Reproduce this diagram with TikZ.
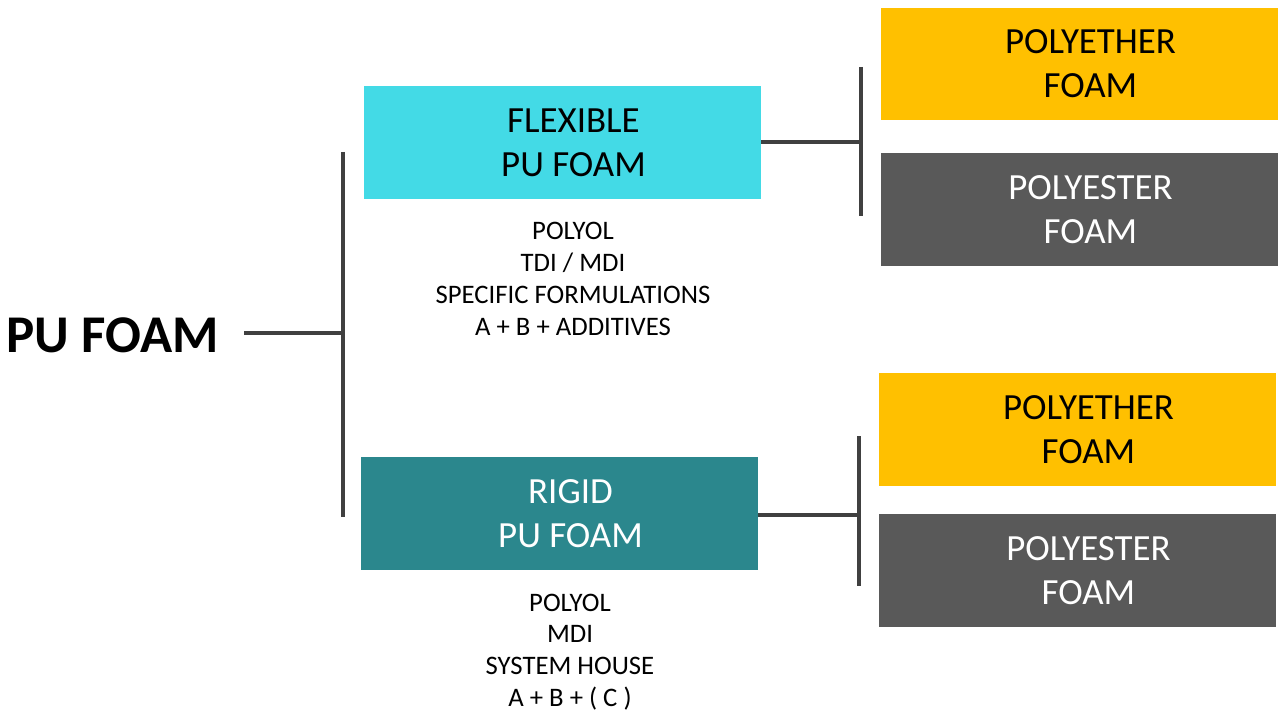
\documentclass[tikz,border=0pt]{standalone}
\usepackage{fontspec}
\setmainfont{Carlito}
\usepackage{tikz}
\usetikzlibrary{positioning, calc}
\definecolor{flexcyan}{RGB}{67,218,230}
\definecolor{rigidteal}{RGB}{43,135,141}
\definecolor{ethergold}{RGB}{255,192,0}
\definecolor{estergray}{RGB}{89,89,89}
\definecolor{linegray}{RGB}{64,64,64}

\begin{document}
\begin{tikzpicture}[
  x=0.02cm, y=-0.02cm,
  typebox/.style={rectangle, minimum width=7.94cm, minimum height=2.26cm, inner sep=0pt},
  boxtext/.style={align=center, inner sep=0pt, xshift=0.22cm, font=\fontsize{21}{25}\selectfont},
  recipe/.style={align=center, inner sep=0pt, font=\fontsize{15.2}{18.1}\selectfont},
  conn/.style={draw=linegray, line width=2pt}
]
\useasboundingbox (0,0) rectangle (1285,716);

% ---- Root ----
\node[font=\fontsize{30.2}{34}\selectfont\bfseries, inner sep=0pt] (pufoam) at (113,335) {PU FOAM};
\coordinate (rootend) at (244,333);
\coordinate (mainbartop) at (343,152);
\coordinate (mainbarbot) at (343,517);

% ---- Flexible branch ----
\node[typebox, fill=flexcyan, label={[boxtext]center:{FLEXIBLE\\PU FOAM}}] (flexible) at (562.5,142.5) {};
\node[recipe] (flexrecipe) at (573,279) {POLYOL\\TDI / MDI\\SPECIFIC FORMULATIONS\\A + B + ADDITIVES};
\coordinate (flexbartop) at (861,67);
\coordinate (flexbarbot) at (861,216);
\node[typebox, fill=ethergold, label={[boxtext]center:{POLYETHER\\FOAM}}] (flexether) at (1079.5,64) {};
\node[typebox, fill=estergray, label={[boxtext, text=white]center:{POLYESTER\\FOAM}}] (flexester) at (1079.5,209.5) {};

% ---- Rigid branch ----
\node[typebox, fill=rigidteal, label={[boxtext, text=white]center:{RIGID\\PU FOAM}}] (rigid) at (559.5,513.5) {};
\node[recipe] (rigidrecipe) at (570,652) {POLYOL\\MDI\\SYSTEM HOUSE\\A + B + ( C )};
\coordinate (rigidbartop) at (859,436);
\coordinate (rigidbarbot) at (859,586);
\node[typebox, fill=ethergold, label={[boxtext]center:{POLYETHER\\FOAM}}] (rigidether) at (1077.5,429.5) {};
\node[typebox, fill=estergray, label={[boxtext, text=white]center:{POLYESTER\\FOAM}}] (rigidester) at (1077.5,570.5) {};

% ---- Connectors ----
\draw[conn] (rootend) -- (rootend -| mainbartop);
\draw[conn] (mainbartop) -- (mainbarbot);
\draw[conn] ([yshift=0.01cm]flexible.east) -- ([yshift=0.01cm]flexible.east -| flexbartop);
\draw[conn] (flexbartop) -- (flexbarbot);
\draw[conn] ([yshift=-0.03cm]rigid.east) -- ([yshift=-0.03cm]rigid.east -| rigidbartop);
\draw[conn] (rigidbartop) -- (rigidbarbot);

\end{tikzpicture}
\end{document}
